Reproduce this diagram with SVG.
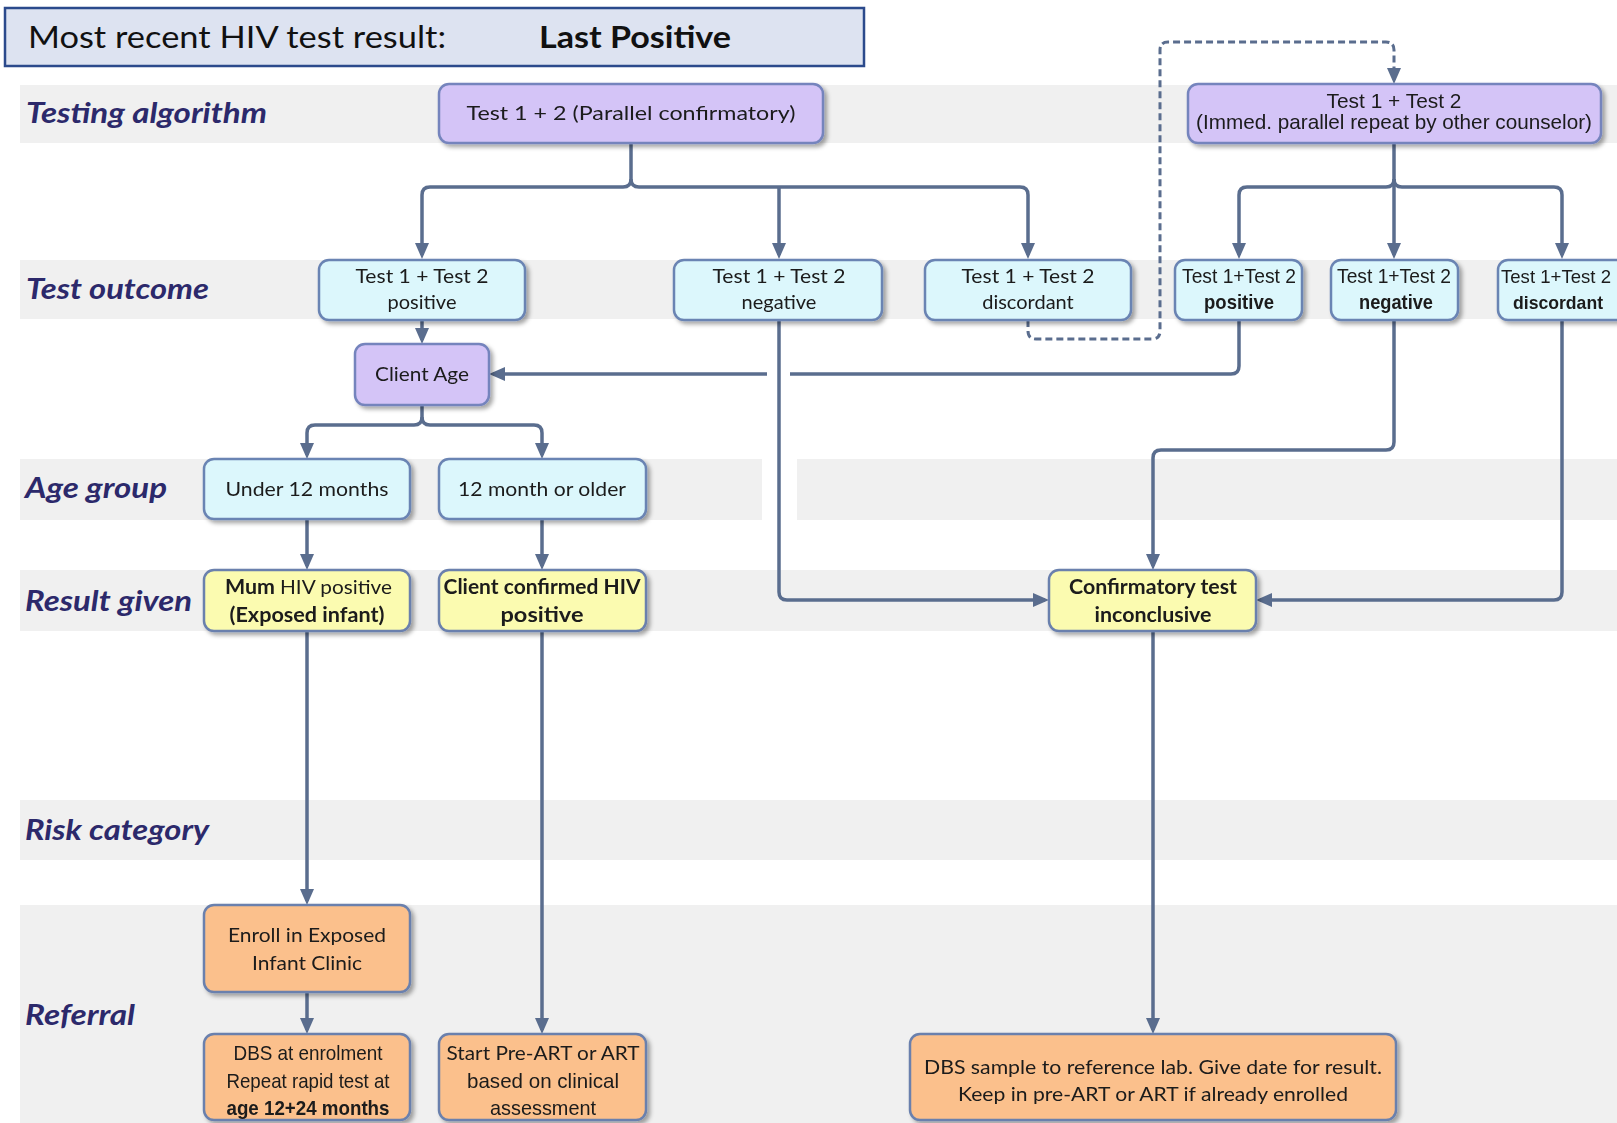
<svg xmlns="http://www.w3.org/2000/svg" width="1617" height="1123" viewBox="0 0 1617 1123">
<style>
.band{fill:#f0f0f0}
.lane{font-family:Lato,"Open Sans",sans-serif;font-weight:700;font-style:italic;font-size:28px;fill:#2c296b}
.t{font-family:Lato,"Noto Sans",sans-serif;font-size:20px;fill:#1a1a1a;text-anchor:middle}
.a{font-family:"Liberation Sans",Arial,sans-serif;font-size:21px;fill:#1a1a1a;text-anchor:middle}
.b{font-weight:700}
.purple{fill:#d4c4f7;stroke:#7584bd;stroke-width:2.5}
.cyan{fill:#dcf7fc;stroke:#6a84b3;stroke-width:2.5}
.yellow{fill:#fbfbb0;stroke:#6a80ad;stroke-width:2.5}
.orange{fill:#fbc08c;stroke:#6a80ad;stroke-width:2.5}
.c{fill:none;stroke:#5a6d8e;stroke-width:3.5}
.d{fill:none;stroke:#5a6d8e;stroke-width:3;stroke-dasharray:7 4}
</style>
<defs>
<filter id="sh" x="-10%" y="-10%" width="130%" height="140%">
<feDropShadow dx="3" dy="3" stdDeviation="2" flood-color="#000" flood-opacity="0.35"/>
</filter>
<marker id="ar" viewBox="0 0 16 14" refX="12" refY="7" markerWidth="16" markerHeight="14" markerUnits="userSpaceOnUse" orient="auto">
<path d="M0,0 L16,7 L0,14 z" fill="#5a6d8e"/>
</marker>
</defs>
<rect width="1617" height="1123" fill="#ffffff"/>
<g id="bands">
<rect class="band" x="20" y="85" width="1597" height="58"/>
<rect class="band" x="20" y="260" width="1597" height="59"/>
<rect class="band" x="20" y="459" width="1597" height="61"/>
<rect class="band" x="20" y="570" width="1597" height="61"/>
<rect class="band" x="20" y="800" width="1597" height="60"/>
<rect class="band" x="20" y="905" width="1597" height="218"/>
<rect x="762" y="459" width="35" height="61" fill="#ffffff"/>
</g>
<g id="header">
<rect x="5" y="8" width="859" height="58" fill="#dde3f1" stroke="#2b4a8c" stroke-width="2.5"/>
<text x="28" y="48" font-family="Lato,'Open Sans',sans-serif" font-size="31" fill="#111" textLength="418" lengthAdjust="spacingAndGlyphs">Most recent HIV test result:</text>
<text x="539" y="48" font-family="Lato,'Open Sans',sans-serif" font-size="31" font-weight="700" fill="#111" textLength="192" lengthAdjust="spacingAndGlyphs">Last Positive</text>
</g>
<g id="lanes">
<text class="lane" x="26" y="123" textLength="241" lengthAdjust="spacingAndGlyphs">Testing algorithm</text>
<text class="lane" x="26" y="299" textLength="183" lengthAdjust="spacingAndGlyphs">Test outcome</text>
<text class="lane" x="25" y="498" textLength="142" lengthAdjust="spacingAndGlyphs">Age group</text>
<text class="lane" x="25" y="611" textLength="167" lengthAdjust="spacingAndGlyphs">Result given</text>
<text class="lane" x="25" y="840" textLength="184" lengthAdjust="spacingAndGlyphs">Risk category</text>
<text class="lane" x="25" y="1025" textLength="110" lengthAdjust="spacingAndGlyphs">Referral</text>
</g>
<g id="connectors">
<path class="c" d="M631,143 V179 Q631,187 623,187 H430 Q422,187 422,195 V255" marker-end="url(#ar)"/>
<path class="c" d="M631,179 Q631,187 639,187 H1020 Q1028,187 1028,195 V255" marker-end="url(#ar)"/>
<path class="c" d="M779,187 V255" marker-end="url(#ar)"/>
<path class="c" d="M1394,143 V255" marker-end="url(#ar)"/>
<path class="c" d="M1394,179 Q1394,187 1386,187 H1247 Q1239,187 1239,195 V255" marker-end="url(#ar)"/>
<path class="c" d="M1394,179 Q1394,187 1402,187 H1554 Q1562,187 1562,195 V255" marker-end="url(#ar)"/>
<path class="d" d="M1028,320 V331 Q1028,339 1036,339 H1152 Q1160,339 1160,331 V50 Q1160,42 1168,42 H1386 Q1394,42 1394,50 V80" marker-end="url(#ar)"/>
<path class="c" d="M422,320 V340" marker-end="url(#ar)"/>
<path class="c" d="M1239,320 V366 Q1239,374 1231,374 H790"/>
<path class="c" d="M767,374 H493" marker-end="url(#ar)"/>
<path class="c" d="M779,320 V592 Q779,600 787,600 H1045" marker-end="url(#ar)"/>
<path class="c" d="M1394,320 V442 Q1394,450 1386,450 H1161 Q1153,450 1153,458 V566" marker-end="url(#ar)"/>
<path class="c" d="M1562,320 V592 Q1562,600 1554,600 H1260" marker-end="url(#ar)"/>
<path class="c" d="M422,405 V417 Q422,425 414,425 H315 Q307,425 307,433 V455" marker-end="url(#ar)"/>
<path class="c" d="M422,417 Q422,425 430,425 H534 Q542,425 542,433 V455" marker-end="url(#ar)"/>
<path class="c" d="M307,519 V566" marker-end="url(#ar)"/>
<path class="c" d="M542,519 V566" marker-end="url(#ar)"/>
<path class="c" d="M307,631 V901" marker-end="url(#ar)"/>
<path class="c" d="M542,631 V1030" marker-end="url(#ar)"/>
<path class="c" d="M307,992 V1030" marker-end="url(#ar)"/>
<path class="c" d="M1153,631 V1030" marker-end="url(#ar)"/>
</g>
<g id="n-parallel" filter="url(#sh)">
<rect class="purple" x="439" y="84" width="384" height="59" rx="10"/>
<text class="t" x="631" y="120" textLength="329" lengthAdjust="spacingAndGlyphs">Test 1 + 2 (Parallel confirmatory)</text>
</g>
<g id="n-repeat" filter="url(#sh)">
<rect class="purple" x="1188" y="84" width="413" height="59" rx="10"/>
<text class="a" x="1394" y="108" textLength="135" lengthAdjust="spacingAndGlyphs">Test 1 + Test 2</text>
<text class="a" x="1394" y="129" textLength="396" lengthAdjust="spacingAndGlyphs">(Immed. parallel repeat  by other counselor)</text>
</g>
<g id="n-pos1" filter="url(#sh)">
<rect class="cyan" x="319" y="260" width="206" height="60" rx="10"/>
<text class="t" x="422" y="283" textLength="133" lengthAdjust="spacingAndGlyphs">Test 1 + Test 2</text>
<text class="t" x="422" y="309">positive</text>
</g>
<g id="n-neg1" filter="url(#sh)">
<rect class="cyan" x="674" y="260" width="208" height="60" rx="10"/>
<text class="t" x="779" y="283" textLength="133" lengthAdjust="spacingAndGlyphs">Test 1 + Test 2</text>
<text class="t" x="779" y="309">negative</text>
</g>
<g id="n-disc1" filter="url(#sh)">
<rect class="cyan" x="925" y="260" width="206" height="60" rx="10"/>
<text class="t" x="1028" y="283" textLength="133" lengthAdjust="spacingAndGlyphs">Test 1 + Test 2</text>
<text class="t" x="1028" y="309">discordant</text>
</g>
<g id="n-pos2" filter="url(#sh)">
<rect class="cyan" x="1175" y="260" width="127" height="60" rx="10"/>
<text class="a" x="1239" y="283" textLength="114" lengthAdjust="spacingAndGlyphs">Test 1+Test 2</text>
<text class="a b" x="1239" y="309" textLength="70" lengthAdjust="spacingAndGlyphs">positive</text>
</g>
<g id="n-neg2" filter="url(#sh)">
<rect class="cyan" x="1331" y="260" width="127" height="60" rx="10"/>
<text class="a" x="1394" y="283" textLength="114" lengthAdjust="spacingAndGlyphs">Test 1+Test 2</text>
<text class="a b" x="1396" y="309" textLength="74" lengthAdjust="spacingAndGlyphs">negative</text>
</g>
<g id="n-disc2" filter="url(#sh)">
<rect class="cyan" x="1498" y="260" width="130" height="60" rx="10"/>
<text class="a" x="1556" y="283" style="font-size:19px" textLength="110" lengthAdjust="spacingAndGlyphs">Test 1+Test 2</text>
<text class="a b" x="1558" y="309" style="font-size:19px" textLength="90" lengthAdjust="spacingAndGlyphs">discordant</text>
</g>
<g id="n-clientage" filter="url(#sh)">
<rect class="purple" x="355" y="344" width="134" height="61" rx="10"/>
<text class="t" x="422" y="381" textLength="94" lengthAdjust="spacingAndGlyphs">Client Age</text>
</g>
<g id="n-under12" filter="url(#sh)">
<rect class="cyan" x="204" y="459" width="206" height="60" rx="10"/>
<text class="t" x="307" y="496" textLength="163" lengthAdjust="spacingAndGlyphs">Under 12 months</text>
</g>
<g id="n-over12" filter="url(#sh)">
<rect class="cyan" x="439" y="459" width="207" height="60" rx="10"/>
<text class="t" x="542" y="496" textLength="168" lengthAdjust="spacingAndGlyphs">12 month or older</text>
</g>
<g id="n-mum" filter="url(#sh)">
<rect class="yellow" x="204" y="570" width="206" height="61" rx="10"/>
<text class="t b" x="225" y="594" style="text-anchor:start" textLength="50" lengthAdjust="spacingAndGlyphs">Mum</text>
<text class="t" x="280" y="594" style="text-anchor:start" textLength="112" lengthAdjust="spacingAndGlyphs">HIV positive</text>
<text class="t b" x="307" y="622" textLength="155" lengthAdjust="spacingAndGlyphs">(Exposed infant)</text>
</g>
<g id="n-confirmed" filter="url(#sh)">
<rect class="yellow" x="439" y="570" width="207" height="61" rx="10"/>
<text class="t b" x="542" y="594" textLength="197" lengthAdjust="spacingAndGlyphs">Client confirmed HIV</text>
<text class="t b" x="542" y="622" textLength="83" lengthAdjust="spacingAndGlyphs">positive</text>
</g>
<g id="n-inconclusive" filter="url(#sh)">
<rect class="yellow" x="1049" y="570" width="207" height="61" rx="10"/>
<text class="t b" x="1153" y="594" textLength="168" lengthAdjust="spacingAndGlyphs">Confirmatory test</text>
<text class="t b" x="1153" y="622" textLength="117" lengthAdjust="spacingAndGlyphs">inconclusive</text>
</g>
<g id="n-enroll" filter="url(#sh)">
<rect class="orange" x="204" y="905" width="206" height="87" rx="10"/>
<text class="t" x="307" y="942" textLength="158" lengthAdjust="spacingAndGlyphs">Enroll in Exposed</text>
<text class="t" x="307" y="970" textLength="110" lengthAdjust="spacingAndGlyphs">Infant Clinic</text>
</g>
<g id="n-dbs" filter="url(#sh)">
<rect class="orange" x="204" y="1034" width="206" height="86" rx="10"/>
<text class="a" x="308" y="1060" textLength="149" lengthAdjust="spacingAndGlyphs">DBS at enrolment</text>
<text class="a" x="308" y="1088" textLength="163" lengthAdjust="spacingAndGlyphs">Repeat rapid test at</text>
<text class="a b" x="308" y="1115" textLength="163" lengthAdjust="spacingAndGlyphs">age 12+24 months</text>
</g>
<g id="n-start" filter="url(#sh)">
<rect class="orange" x="439" y="1034" width="207" height="86" rx="10"/>
<text class="t" x="543" y="1060" textLength="193" lengthAdjust="spacingAndGlyphs">Start Pre-ART or ART</text>
<text class="a" x="543" y="1088" textLength="152" lengthAdjust="spacingAndGlyphs">based on clinical</text>
<text class="a" x="543" y="1115" textLength="106" lengthAdjust="spacingAndGlyphs">assessment</text>
</g>
<g id="n-lab" filter="url(#sh)">
<rect class="orange" x="910" y="1034" width="486" height="86" rx="10"/>
<text class="t" x="1153" y="1074" textLength="458" lengthAdjust="spacingAndGlyphs">DBS sample to reference lab. Give date for result.</text>
<text class="t" x="1153" y="1101" textLength="390" lengthAdjust="spacingAndGlyphs">Keep in pre-ART or ART if already enrolled</text>
</g>
</svg>
